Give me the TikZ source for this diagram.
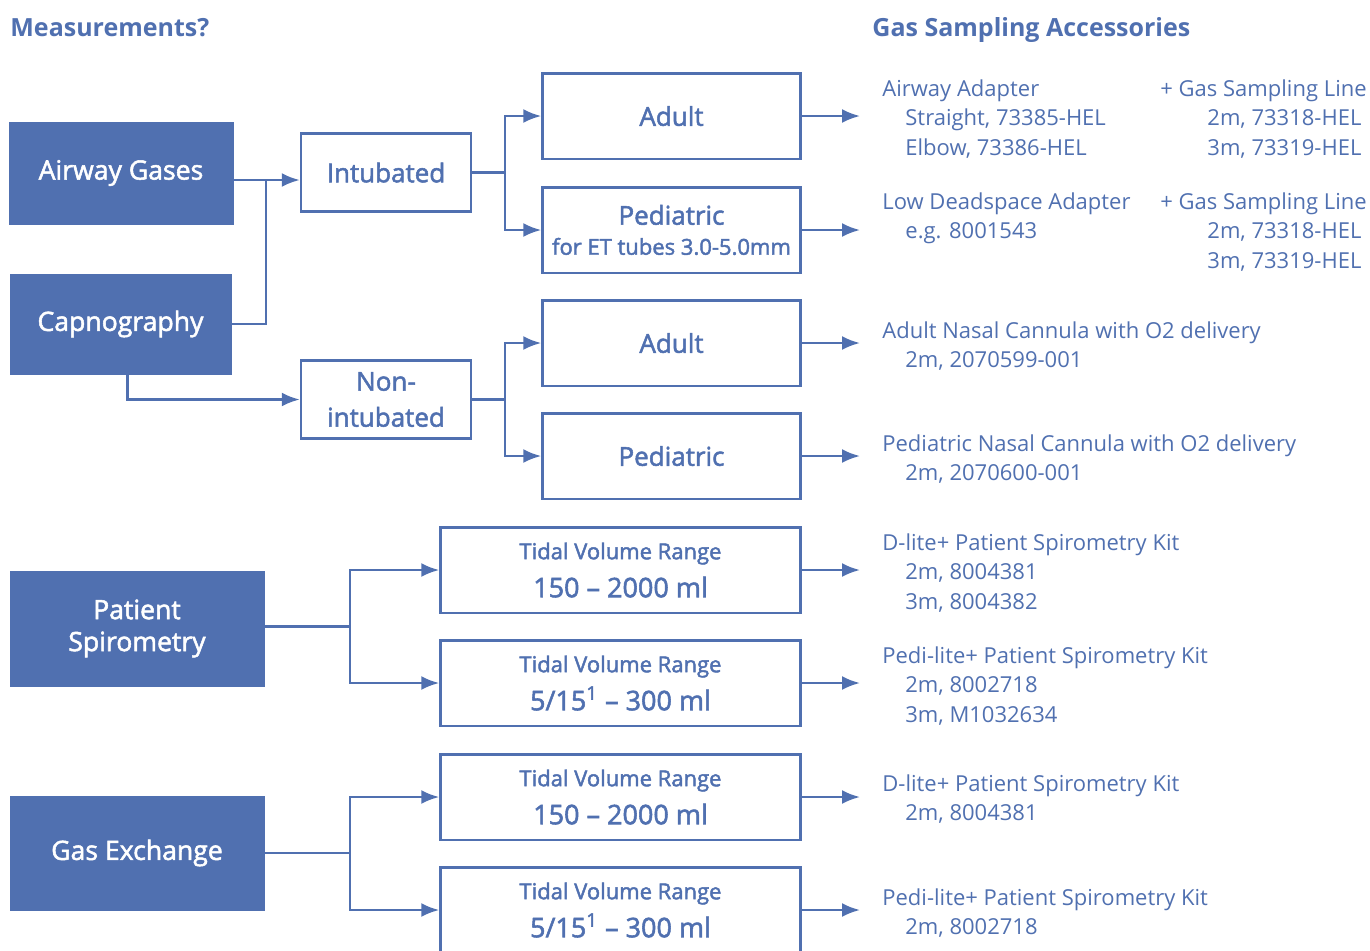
\documentclass[tikz,border=0pt]{standalone}
\usepackage{fontspec}
\setmainfont{Open Sans}
\newfontfamily\medfont[FakeBold=2,Ligatures=TeX]{Open Sans}
\usetikzlibrary{arrows.meta}

\definecolor{geblue}{RGB}{80,112,176}

\tikzset{
	measure/.style={fill=geblue, draw=geblue, text=white, align=center,
		font=\medfont\fontsize{13.3}{16}\selectfont, inner sep=0pt},
	choice/.style={draw=geblue, line width=1.25pt, text=geblue, align=center,
		font=\medfont\fontsize{13}{18}\selectfont, inner sep=0pt},
	link/.style={draw=geblue, line width=1.25pt},
	flow/.style={link, -{Latex[length=9pt,width=7pt]}},
	acc/.style={text=geblue, align=left, anchor=base west, inner sep=0pt,
		font=\fontsize{11}{14.75}\selectfont},
	heading/.style={text=geblue, anchor=base west, inner sep=0pt,
		font=\fontsize{12.5}{15}\selectfont\bfseries},
}

\newcommand{\tidal}[1]{{\fontsize{11}{12}\selectfont Tidal Volume Range}\\[1pt]{\fontsize{13.5}{16}\selectfont #1}}

\begin{document}
\begin{tikzpicture}[x=0.5pt,y=-0.5pt]
		\useasboundingbox (0,0) rectangle (1370,950);
		\clip (0,0) rectangle (1370,950);
%		\draw[help lines] (0,0) grid (1370,950);
		\path (266,180) coordinate (jointop);
		\path (505,172.5) coordinate (intfork);
		\path (505,399.5) coordinate (nonfork);
		\path (350,626.5) coordinate (spirofork);
		\path (350,853) coordinate (gasfork);
		\path (860,0) coordinate (acctip);

		% measurements
		\node[heading] (meastitle) at (10,36) {Measurements?};
		\node[measure, minimum width=112pt, minimum height=51pt] (airway) at (121,173) {Airway Gases};
		\node[measure, minimum width=110.5pt, minimum height=50pt] (capno) at (120.5,324) {Capnography};
		\node[measure, minimum width=127pt, minimum height=57.5pt] (spiro) at (137,628.5) {Patient\\Spirometry};
		\node[measure, minimum width=127pt, minimum height=57pt] (gasex) at (137,853) {Gas Exchange};

		% patient type
		\node[choice, minimum width=85pt, minimum height=39pt] (intub) at (386,172.5) {Intubated};
		\node[choice, minimum width=85pt, minimum height=39pt] (nonint) at (386,399.5) {Non-\\intubated};

		% sizes
		\node[choice, minimum width=129pt, minimum height=42.75pt] (adultA) at (671.5,116) {Adult};
		\node[choice, minimum width=129pt, minimum height=42.75pt, font=\medfont\fontsize{13}{15}\selectfont] (pediA) at (671.5,230)
			{Pediatric\\{\fontsize{11}{12}\selectfont for ET tubes 3.0-5.0mm}};
		\node[choice, minimum width=129pt, minimum height=42.75pt] (adultB) at (671.5,343) {Adult};
		\node[choice, minimum width=129pt, minimum height=42.75pt] (pediB) at (671.5,456) {Pediatric};
		\node[choice, minimum width=180pt, minimum height=42.75pt] (tidalA) at (620.5,570) {\tidal{150 -- 2000 ml}};
		\node[choice, minimum width=180pt, minimum height=42.75pt] (tidalB) at (620.5,683) {\tidal{5/15\textsuperscript{1} -- 300 ml}};
		\node[choice, minimum width=180pt, minimum height=42.75pt] (tidalC) at (620.5,797) {\tidal{150 -- 2000 ml}};
		\node[choice, minimum width=180pt, minimum height=42.75pt] (tidalD) at (620.5,910) {\tidal{5/15\textsuperscript{1} -- 300 ml}};

		% accessories (placed at the baseline of their last line)
		\node[heading] (acctitle) at (872,36) {Gas Sampling Accessories};
		\node[acc] (adapter) at (882,155) {Airway Adapter\\\hspace*{11.5pt}Straight, 73385-HEL\\\hspace*{11.5pt}Elbow, 73386-HEL};
		\node[acc] (lineA) at (1160,155) {+ Gas Sampling Line\\\hspace*{23.5pt}2m, 73318-HEL\\\hspace*{23.5pt}3m, 73319-HEL};
		\node[acc] (lowdead) at (882,238.5) {Low Deadspace Adapter\\\hspace*{11.5pt}e.g. 8001543};
		\node[acc] (lineB) at (1160,268) {+ Gas Sampling Line\\\hspace*{23.5pt}2m, 73318-HEL\\\hspace*{23.5pt}3m, 73319-HEL};
		\node[acc] (nasalA) at (882,367.5) {Adult Nasal Cannula with O2 delivery\\\hspace*{11.5pt}2m, 2070599-001};
		\node[acc] (nasalP) at (882,480.5) {Pediatric Nasal Cannula with O2 delivery\\\hspace*{11.5pt}2m, 2070600-001};
		\node[acc] (dliteA) at (882,609) {D-lite+ Patient Spirometry Kit\\\hspace*{11.5pt}2m, 8004381\\\hspace*{11.5pt}3m, 8004382};
		\node[acc] (pediliteA) at (882,722) {Pedi-lite+ Patient Spirometry Kit\\\hspace*{11.5pt}2m, 8002718\\\hspace*{11.5pt}3m, M1032634};
		\node[acc] (dliteB) at (882,820.5) {D-lite+ Patient Spirometry Kit\\\hspace*{11.5pt}2m, 8004381};
		\node[acc] (pediliteB) at (882,934.5) {Pedi-lite+ Patient Spirometry Kit\\\hspace*{11.5pt}2m, 8002718};

		% connectors
		\draw[link] (airway.east |- jointop) -- (jointop);
		\draw[flow] (jointop) -- (intub.west |- jointop);
		\draw[link] (capno.east) -| (jointop);
		\draw[flow] ([xshift=3.5pt]capno.south) |- (nonint.west);
		\draw[link] (intub.east) -- (intfork);
		\draw[flow] (intfork) |- (adultA.west);
		\draw[flow] (intfork) |- (pediA.west);
		\draw[link] (nonint.east) -- (nonfork);
		\draw[flow] (nonfork) |- (adultB.west);
		\draw[flow] (nonfork) |- (pediB.west);
		\draw[link] (spiro.east |- spirofork) -- (spirofork);
		\draw[flow] (spirofork) |- (tidalA.west);
		\draw[flow] (spirofork) |- (tidalB.west);
		\draw[link] (gasex.east) -- (gasfork);
		\draw[flow] (gasfork) |- (tidalC.west);
		\draw[flow] (gasfork) |- (tidalD.west);
		\foreach \sz in {adultA,pediA,adultB,pediB,tidalA,tidalB,tidalC,tidalD}
			\draw[flow] (\sz.east) -- (\sz.east -| acctip);
	\end{tikzpicture}
\end{document}
